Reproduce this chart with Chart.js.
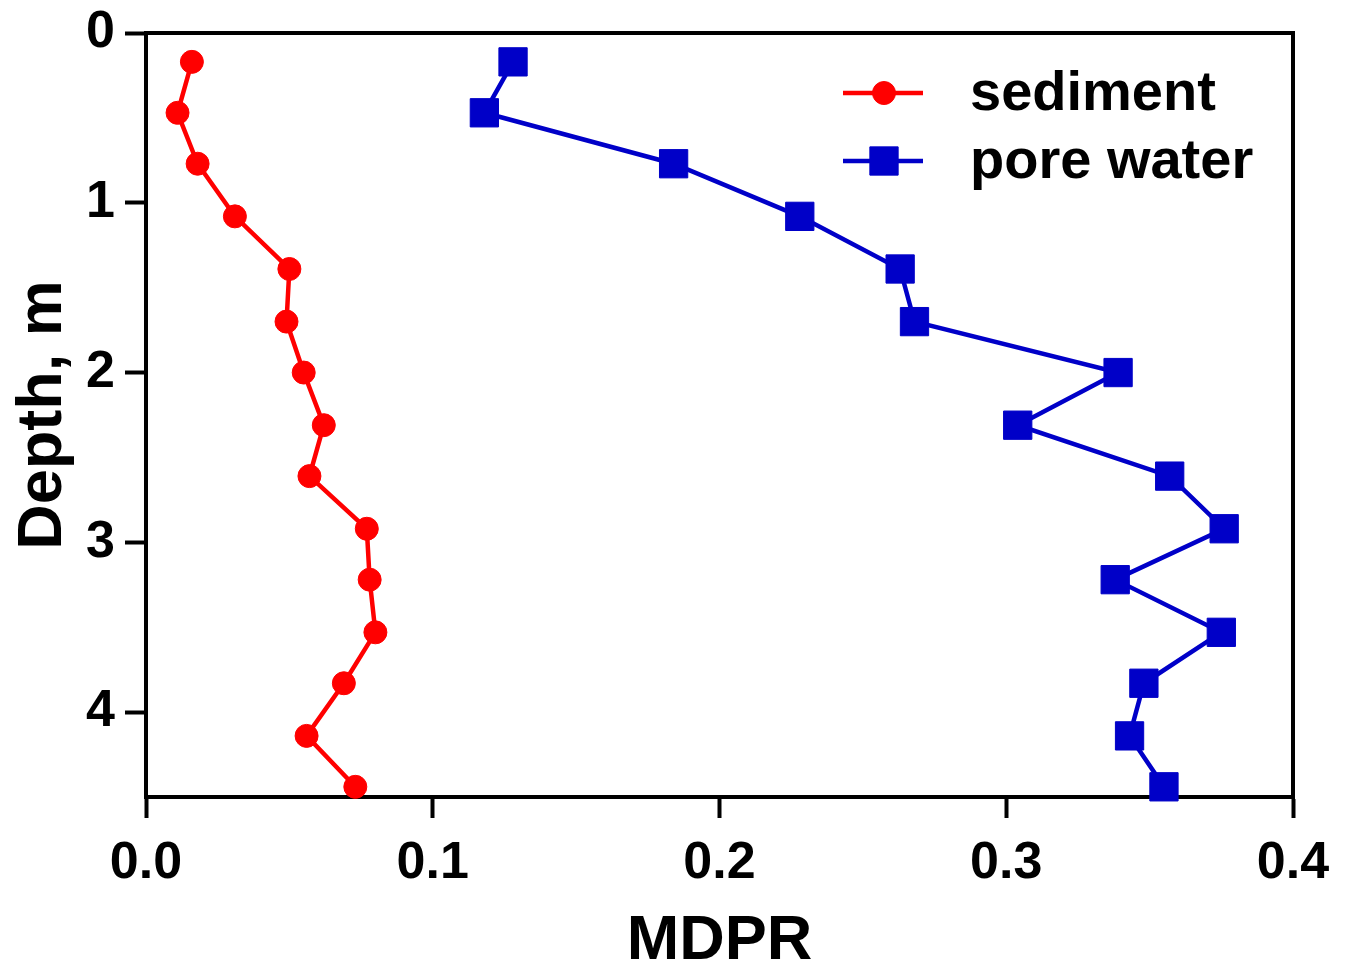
<!DOCTYPE html>
<html>
<head>
<meta charset="utf-8">
<title>MDPR vs depth</title>
<script src="https://cdn.jsdelivr.net/npm/chart.js@4/dist/chart.umd.min.js"></script>
<style>
    html, body { margin: 0; padding: 0; background: #fff; }
    #wrap { width: 1353px; height: 973px; }
</style>
</head>
<body>
<div id="wrap"><canvas id="mdpr" width="1353" height="973"></canvas></div>
<script>
'use strict';

// sample depth, m
var depths = [0.17, 0.47, 0.77, 1.08, 1.39, 1.70, 2.00, 2.31, 2.61, 2.92, 3.22, 3.53, 3.83, 4.14, 4.44];
// MDPR at each depth
var sediment  = [0.016, 0.011, 0.018, 0.031, 0.050, 0.049, 0.055, 0.062, 0.057, 0.077, 0.078, 0.080, 0.069, 0.056, 0.073];
var poreWater = [0.128, 0.118, 0.184, 0.228, 0.263, 0.268, 0.339, 0.304, 0.357, 0.376, 0.338, 0.375, 0.348, 0.343, 0.355];

var seriesNames = ['sediment', 'pore water'];
var xTicks = [0, 0.1, 0.2, 0.3, 0.4];
var yTicks = [0, 1, 2, 3, 4];

var FONT = '"Liberation Sans", Arial, sans-serif';
var RED = '#FF0000';
var BLUE = '#0000C8';

function toPoints(values) {
    return values.map(function (v, i) { return { x: v, y: depths[i] }; });
}

// box round the plot, drawn under the markers
var framePlugin = {
    id: 'frame',
    beforeDatasetsDraw: function (chart) {
        var a = chart.chartArea;
        var ctx = chart.ctx;
        ctx.save();
        ctx.strokeStyle = '#000';
        ctx.lineWidth = 4;
        ctx.strokeRect(a.left, a.top, a.right - a.left, a.bottom - a.top);
        ctx.restore();
    }
};

// legend sits inside the plot, top right
var legendPlugin = {
    id: 'insideLegend',
    afterDraw: function (chart) {
        var ctx = chart.ctx;
        chart.data.datasets.forEach(function (ds, i) {
            var y = 93 + i * 68;
            ctx.save();
            ctx.strokeStyle = ds.borderColor;
            ctx.lineWidth = ds.borderWidth;
            ctx.beginPath();
            ctx.moveTo(843, y);
            ctx.lineTo(923, y);
            ctx.stroke();
            ctx.fillStyle = ds.pointBackgroundColor;
            ctx.strokeStyle = ds.pointBorderColor;
            ctx.lineWidth = ds.pointBorderWidth;
            Chart.helpers.drawPoint(ctx, {
                pointStyle: ds.pointStyle,
                radius: ds.pointRadius,
                rotation: 0,
                borderWidth: ds.pointBorderWidth
            }, 884, y);
            ctx.fillStyle = '#000';
            ctx.font = 'bold 56px ' + FONT;
            ctx.textBaseline = 'middle';
            ctx.fillText(ds.label, 970, y + 2);
            ctx.restore();
        });
    }
};

var config = {
    type: 'scatter',
    data: {
        datasets: [{
            label: seriesNames[0],
            data: toPoints(sediment),
            showLine: true,
            borderColor: RED,
            borderWidth: 4.5,
            pointStyle: 'circle',
            pointRadius: 11.5,
            pointBackgroundColor: RED,
            pointBorderColor: RED,
            pointBorderWidth: 1,
            clip: false
        }, {
            label: seriesNames[1],
            data: toPoints(poreWater),
            showLine: true,
            borderColor: BLUE,
            borderWidth: 4.5,
            pointStyle: 'rect',
            pointRadius: 20,
            pointBackgroundColor: BLUE,
            pointBorderColor: BLUE,
            pointBorderWidth: 1,
            clip: false
        }]
    },
    options: {
        responsive: false,
        animation: false,
        layout: { padding: { top: 33, right: 60, left: 0, bottom: 0 } },
        plugins: {
            legend: { display: false },
            tooltip: { enabled: false }
        },
        scales: {
            x: {
                type: 'linear',
                min: 0,
                max: 0.4,
                afterBuildTicks: function (scale) {
                    scale.ticks = xTicks.map(function (v) { return { value: v }; });
                },
                afterFit: function (scale) { scale.height = 176; },
                border: { display: true, width: 4, color: '#000' },
                grid: {
                    display: true,
                    drawOnChartArea: false,
                    drawTicks: true,
                    tickLength: 21,
                    tickWidth: 4,
                    tickColor: '#000'
                },
                ticks: {
                    color: '#000',
                    padding: 14,
                    maxRotation: 0,
                    font: { family: FONT, size: 52, weight: 'bold' },
                    callback: function (v) { return Number(v).toFixed(1); }
                },
                title: {
                    display: true,
                    text: 'MDPR',
                    color: '#000',
                    font: { family: FONT, size: 63, weight: 'bold', lineHeight: 1 },
                    padding: { top: 0, bottom: 0 }
                }
            },
            y: {
                type: 'linear',
                reverse: true,
                min: 0,
                max: 4.5,
                afterBuildTicks: function (scale) {
                    scale.ticks = yTicks.map(function (v) { return { value: v }; });
                },
                afterFit: function (scale) { scale.width = 146; },
                border: { display: true, width: 4, color: '#000' },
                grid: {
                    display: true,
                    drawOnChartArea: false,
                    drawTicks: true,
                    tickLength: 21,
                    tickWidth: 4,
                    tickColor: '#000'
                },
                ticks: {
                    color: '#000',
                    padding: 10,
                    font: { family: FONT, size: 52, weight: 'bold', lineHeight: 0.7 },
                    callback: function (v) { return String(v); }
                },
                title: {
                    display: true,
                    text: 'Depth, m',
                    color: '#000',
                    font: { family: FONT, size: 63, weight: 'bold', lineHeight: 1 },
                    padding: { top: 12, bottom: 0 }
                }
            }
        }
    },
    plugins: [framePlugin, legendPlugin]
};

new Chart(document.getElementById('mdpr').getContext('2d'), config);
</script>
</body>
</html>
